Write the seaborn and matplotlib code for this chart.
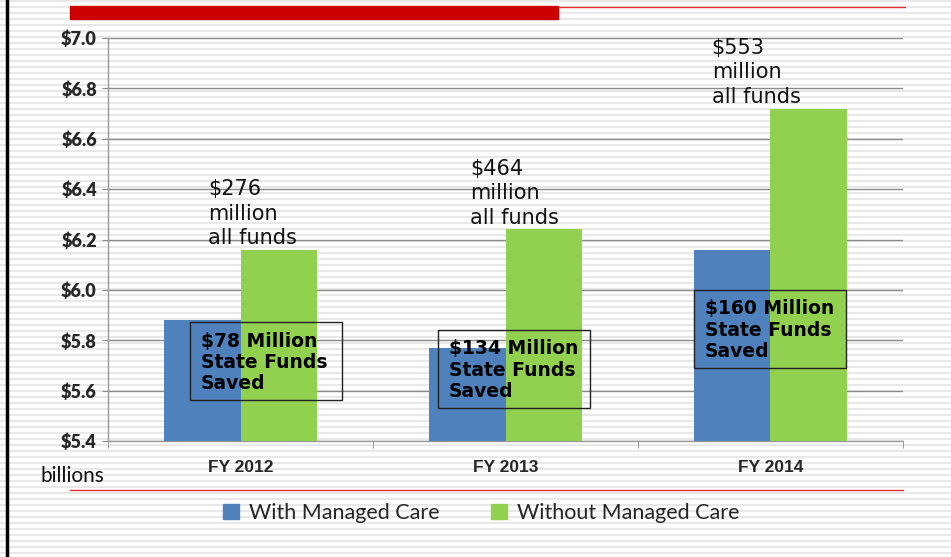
import numpy as np
import pandas as pd
import seaborn as sns
import matplotlib.pyplot as plt
from matplotlib.patches import Rectangle
from matplotlib.lines import Line2D

# data (billions of dollars)
years = ['FY 2012', 'FY 2013', 'FY 2014']
with_mc = [5.88, 5.77, 6.16]
without_mc = [6.16, 6.24, 6.72]
series_names = ['With Managed Care', 'Without Managed Care']
all_funds_notes = ['$276\nmillion\nall funds', '$464\nmillion\nall funds', '$553\nmillion\nall funds']
state_notes = ['$78 Million\nState Funds\nSaved', '$134 Million\nState Funds\nSaved',
               '$160 Million\nState Funds\nSaved']
yticks = [5.4, 5.6, 5.8, 6.0, 6.2, 6.4, 6.6, 6.8, 7.0]

df = pd.DataFrame({
    'year': years * 2,
    'value': with_mc + without_mc,
    'series': [series_names[0]] * 3 + [series_names[1]] * 3,
})

sns.set_style('white')
plt.rcParams['font.family'] = ['DejaVu Sans']

fig = plt.figure(figsize=(9.51, 5.57), dpi=100)

# striped slide background
W, H = 951, 557
bg = np.ones((H, W, 3))
rows = np.arange(H)
bg[(rows % 6) < 2] = 0.91
fig.figimage(bg, xo=0, yo=0, zorder=-5)

ax = fig.add_axes([108 / W, 1 - 441 / H, 795 / W, 403 / H])
ax.set_facecolor('none')

sns.barplot(data=df, x='year', y='value', hue='series',
            palette=['#4F81BD', '#92D050'], width=0.575, gap=0,
            saturation=1, linewidth=0, ax=ax, zorder=3)

ax.set_ylim(5.4, 7.0)
ax.set_xlim(-0.5, 2.5)
ax.set_yticks(yticks, labels=['$%.1f' % v for v in yticks],
              fontfamily='Lato', fontweight='heavy', fontsize=13)
ax.set_xticks(range(len(years)), labels=years,
              fontfamily='Liberation Sans', fontweight='bold', fontsize=12.5)
ax.grid(axis='y', color='#8a8a8a', linewidth=1, zorder=0)
ax.set_axisbelow(True)
ax.set_xlabel('')
ax.set_ylabel('')

for s in ['top', 'right']:
    ax.spines[s].set_visible(False)
for s in ['left', 'bottom']:
    ax.spines[s].set_color('#9a9a9a')
    ax.spines[s].set_linewidth(1)

ax.tick_params(axis='y', length=4, color='#8a8a8a', pad=4, left=True)
ax.tick_params(axis='x', length=0, pad=14)
ax.set_xticks([-0.5, 0.5, 1.5, 2.5], minor=True)
ax.tick_params(axis='x', which='minor', length=5, color='#8a8a8a', bottom=True)

ax.get_legend().remove()

# "all funds" notes above green bars
note_dx = [-0.123, -0.134, -0.222]
for i, txt in enumerate(all_funds_notes):
    ax.text(i + note_dx[i], without_mc[i] + 0.005, txt, ha='left', va='bottom',
            fontsize=15, linespacing=1.3, color='#111111', zorder=5)

# state funds boxes
box_left = [-0.19, -0.255, -0.289]
box_top = [5.872, 5.841, 6.0]
box_w, box_h = 0.574, 0.31
for i, txt in enumerate(state_notes):
    ax.add_patch(Rectangle((i + box_left[i], box_top[i] - box_h), box_w, box_h,
                           fill=False, edgecolor='#222222', linewidth=1, zorder=6))
    ax.text(i + box_left[i] + 0.04, box_top[i] - 0.038, txt, ha='left', va='top',
            fontsize=13.5, fontweight='bold', linespacing=1.16, color='black', zorder=7)

# legend below
handles = [Rectangle((0, 0), 1, 1, color='#4F81BD'), Rectangle((0, 0), 1, 1, color='#92D050')]
fig.legend(handles, series_names, loc='center', bbox_to_anchor=(0.506, 1 - 513 / H),
           ncol=2, frameon=False, handlelength=0.75, handleheight=0.75, handletextpad=0.45,
           columnspacing=2.4, prop={'family': 'Lato', 'size': 15.5})

fig.text(40 / W, 1 - 476 / H, 'billions', ha='left', va='center',
         fontfamily='Lato', fontsize=15, color='#111111')

# slide decorations
fig.add_artist(Rectangle((70 / W, 1 - 19 / H), (558 - 70) / W, 13 / H,
                         transform=fig.transFigure, color='#CC0000', zorder=2))
fig.add_artist(Line2D([558 / W, 905 / W], [1 - 6.5 / H, 1 - 6.5 / H],
                      transform=fig.transFigure, color='#E03030', linewidth=1))
fig.add_artist(Line2D([70 / W, 903 / W], [1 - 490 / H, 1 - 490 / H],
                      transform=fig.transFigure, color='#E03030', linewidth=1))
fig.add_artist(Line2D([6.5 / W, 6.5 / W], [0, 1],
                      transform=fig.transFigure, color='black', linewidth=2.5))

fig.savefig('out.png', dpi=100)
